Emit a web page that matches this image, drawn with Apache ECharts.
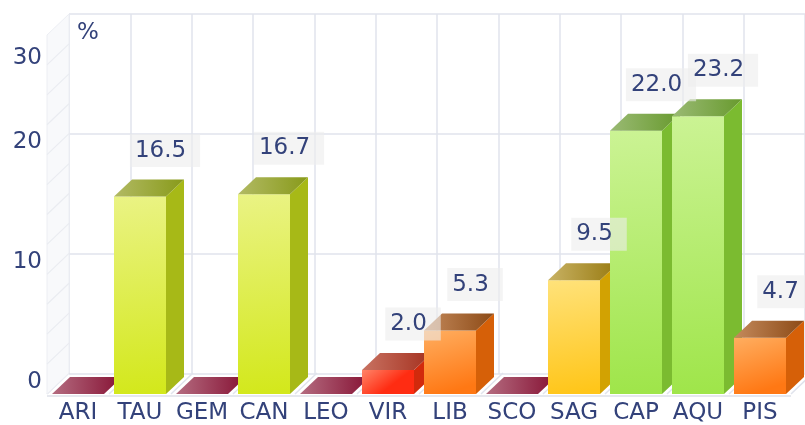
<!DOCTYPE html>
<html>
<head>
<meta charset="utf-8">
<script src="https://cdn.jsdelivr.net/npm/echarts@6/dist/echarts.min.js"></script>
<style>
  html, body { margin: 0; background: #fff; }
  #chart { width: 805px; height: 425px; }
</style>
</head>
<body>
<div id="chart"></div>
<script>
const signs = ['ARI', 'TAU', 'GEM', 'CAN', 'LEO', 'VIR', 'LIB', 'SCO', 'SAG', 'CAP', 'AQU', 'PIS']
const shares = [0, 16.5, 0, 16.7, 0, 2.0, 5.3, 0, 9.5, 22.0, 23.2, 4.7]
const yTicks = [0, 10, 20, 30]

const INK = '#33427a'
const FONT = 'DejaVu Sans'
const FS = 23
const WALL = [22, -21]   // depth of the back wall
const BAR = [18, -17]    // depth of each bar
const GRID_LINE = '#e0e3ec'

// colour bands by value: [upper limit, front light, front dark, side, top light, top dark]
const shades = [
  [0.01, null, null, null, '#b46c80', '#861234'],
  [3, '#ff8468', '#ff2c12', '#d22a0c', '#c87262', '#a4301e'],
  [8, '#ffae60', '#ff7814', '#d66008', '#c48a5c', '#8c4a16'],
  [12, '#ffe27a', '#ffc61a', '#d2a202', '#c8b264', '#987a10'],
  [20, '#eaf384', '#d3e81c', '#a7b917', '#b2ba64', '#889a1a'],
  [99, '#cbf394', '#9fe54a', '#7bbb30', '#9aba74', '#689a2e'],
]

function shadeFor(v) {
  return shades.find(s => v < s[0])
}

function lin(x2, y2, a, b) {
  return new echarts.graphic.LinearGradient(0, 0, x2, y2, [
    { offset: 0, color: a }, { offset: 1, color: b }
  ])
}

function renderBar(params, api) {
  const i = api.value(0)
  const v = api.value(1)
  const top = api.coord([i, v])
  const base = api.coord([i, 0])
  const half = api.size([1, 0])[0] * 26 / 62
  const x0 = top[0] - half
  const x1 = top[0] + half
  const yT = top[1]
  const yB = base[1]
  const [dx, dy] = BAR
  const s = shadeFor(v)
  const children = []
  if (yB - yT > 0.5) {
    children.push({
      type: 'polygon',
      shape: { points: [[x1, yT], [x1 + dx, yT + dy], [x1 + dx, yB + dy], [x1, yB]] },
      style: { fill: s[3] }
    })
    children.push({
      type: 'rect',
      shape: { x: x0, y: yT, width: x1 - x0, height: yB - yT },
      style: { fill: lin(0.35, 1, s[1], s[2]) }
    })
  }
  children.push({
    type: 'polygon',
    shape: { points: [[x0, yT], [x0 + dx, yT + dy], [x1 + dx, yT + dy], [x1, yT]] },
    style: { fill: lin(1, 0, s[4], s[5]) }
  })
  if (v > 0) {
    children.push({
      type: 'text',
      z2: 100,
      style: {
        text: v.toFixed(1),
        x: top[0] + 25,
        y: yT + dy - 29,
        align: 'center',
        verticalAlign: 'middle',
        fill: INK,
        font: FS + 'px "' + FONT + '"',
        lineHeight: 22,
        backgroundColor: 'rgba(236,236,236,0.6)',
        padding: [2, 14, 9, 5]
      }
    })
  }
  return { type: 'group', children }
}

function renderFrame(params, api) {
  const i = api.value(0)
  const band = api.size([1, 0])[0]
  const c = api.coord([i, 0])
  const [dx, dy] = WALL
  const line = { stroke: GRID_LINE, lineWidth: 1.5 }
  const children = []
  const xl = c[0] - band / 2
  children.push({ type: 'line', shape: { x1: xl, y1: c[1], x2: xl + dx, y2: c[1] + dy }, style: line })
  if (i === signs.length - 1) {
    const xr = c[0] + band / 2
    children.push({ type: 'line', shape: { x1: xr, y1: c[1], x2: xr + dx, y2: c[1] + dy }, style: line })
  }
  if (i === 0) {
    const lo = api.coord([0, yTicks[0]])
    const hi = api.coord([0, yTicks[yTicks.length - 1]])
    const last = api.coord([signs.length - 1, 0])
    children.push({
      type: 'polygon',
      shape: { points: [[xl, hi[1]], [xl + dx, hi[1] + dy], [xl + dx, lo[1] + dy], [xl, lo[1]]] },
      style: { fill: '#f8f9fb', stroke: '#eceef3', lineWidth: 1 }
    })
    const step = (yTicks[1] - yTicks[0]) / 4
    for (let t = yTicks[0] + step; t < yTicks[yTicks.length - 1]; t += step) {
      const p = api.coord([0, t])
      children.push({
        type: 'line',
        shape: { x1: xl, y1: p[1], x2: xl + dx, y2: p[1] + dy },
        style: { stroke: '#eaecf1', lineWidth: 1.2 }
      })
    }
    children.push({
      type: 'line',
      shape: { x1: xl, y1: lo[1] + 2, x2: last[0] + band / 2, y2: lo[1] + 2 },
      style: { stroke: '#e6e8ee', lineWidth: 2 }
    })
  }
  return { type: 'group', children }
}

const chart = echarts.init(document.getElementById('chart'))
chart.setOption({
  animation: false,
  title: {
    text: '%',
    left: 77,
    top: 22,
    padding: 0,
    textStyle: { fontSize: FS, fontWeight: 'normal', color: INK, fontFamily: FONT }
  },
  grid: [
    { left: 47, right: 14, top: 35, bottom: 30 },
    { left: 69, right: -8, top: 14, bottom: 51 }
  ],
  xAxis: [
    {
      type: 'category',
      gridIndex: 0,
      data: signs,
      axisLine: { show: false },
      axisTick: { show: false },
      axisLabel: { margin: 8, fontSize: FS, color: INK, fontFamily: FONT, interval: 0 }
    },
    {
      type: 'category',
      gridIndex: 1,
      data: signs,
      axisLine: { show: false },
      axisTick: { show: false },
      axisLabel: { show: false },
      splitLine: { show: true, interval: 0, lineStyle: { color: GRID_LINE, width: 1.5 } }
    }
  ],
  yAxis: [
    {
      type: 'value',
      gridIndex: 0,
      min: yTicks[0],
      max: yTicks[yTicks.length - 1],
      interval: yTicks[1] - yTicks[0],
      axisLine: { show: false },
      axisLabel: { show: false },
      splitLine: { show: false }
    },
    {
      type: 'value',
      gridIndex: 1,
      min: yTicks[0],
      max: yTicks[yTicks.length - 1],
      interval: yTicks[1] - yTicks[0],
      axisLine: { show: false },
      axisTick: { show: false },
      splitLine: { show: true, lineStyle: { color: GRID_LINE, width: 1.5 } },
      axisLabel: {
        margin: 27,
        formatter: v => (v === yTicks[yTicks.length - 1] ? '{far|' + v + '}' : '{near|' + v + '}'),
        rich: {
          near: { fontSize: FS, color: INK, fontFamily: FONT, padding: [17, 0, 0, 0] },
          far: { fontSize: FS, color: INK, fontFamily: FONT, padding: [88, 0, 0, 0] }
        }
      }
    }
  ],
  series: [
    {
      type: 'custom',
      name: 'frame',
      silent: true,
      xAxisIndex: 0,
      yAxisIndex: 0,
      z: 1,
      renderItem: renderFrame,
      data: signs.map((s, i) => [i])
    },
    {
      type: 'custom',
      name: 'share',
      xAxisIndex: 0,
      yAxisIndex: 0,
      z: 5,
      renderItem: renderBar,
      encode: { x: 0, y: 1 },
      data: shares.map((v, i) => [i, v])
    }
  ]
})
</script>
</body>
</html>
